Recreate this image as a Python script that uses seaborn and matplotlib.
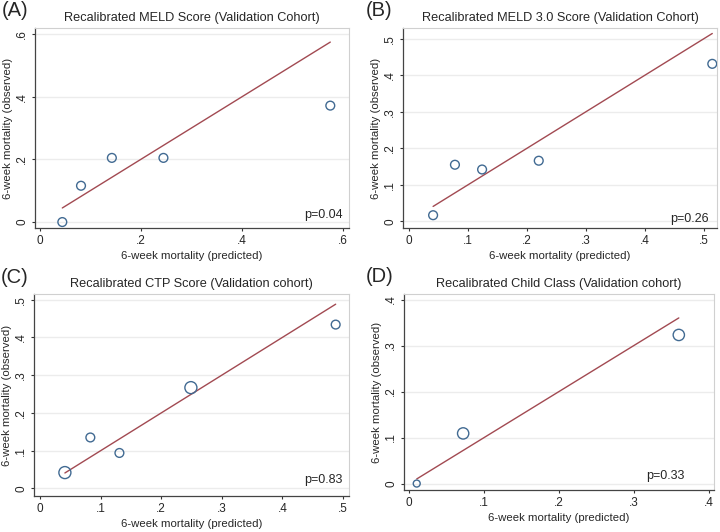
import numpy as np
import pandas as pd
import matplotlib
matplotlib.use("Agg")
import matplotlib.pyplot as plt
import seaborn as sns
from matplotlib.ticker import FuncFormatter

# --- data (predicted vs observed 6-week mortality) ---
meld_pred = [0.045, 0.082, 0.143, 0.245, 0.575]
meld_obs = [0.0, 0.116, 0.205, 0.205, 0.372]
meld_size = [40, 40, 40, 40, 40]

meld3_pred = [0.041, 0.078, 0.124, 0.220, 0.514]
meld3_obs = [0.017, 0.155, 0.142, 0.166, 0.431]
meld3_size = [40, 40, 40, 40, 40]

ctp_pred = [0.041, 0.083, 0.131, 0.249, 0.488]
ctp_obs = [0.042, 0.135, 0.094, 0.267, 0.434]
ctp_size = [75, 40, 40, 75, 40]

child_pred = [0.010, 0.072, 0.360]
child_obs = [0.0, 0.109, 0.323]
child_size = [25, 66, 66]

W, H = 720, 532


def px_rect(left, top, right, bottom):
    # pixel box -> figure fraction rect
    return [left / W, 1 - bottom / H, (right - left) / W, (bottom - top) / H]


panels = [
    dict(tag="(A)", tagpos=(2, 1), title="Recalibrated MELD Score (Validation Cohort)",
         pred=meld_pred, obs=meld_obs, size=meld_size, p="p=0.04",
         xt=[0, .2, .4, .6], yt=[0, .2, .4, .6],
         xlim=(-0.009, 0.612), ylim=(-0.019, 0.62),
         rect=px_rect(35, 28, 349, 228), ptxt=(0.981, 0.05)),
    dict(tag="(B)", tagpos=(366, 1), title="Recalibrated MELD 3.0 Score (Validation Cohort)",
         pred=meld3_pred, obs=meld3_obs, size=meld3_size, p="p=0.26",
         xt=[0, .1, .2, .3, .4, .5], yt=[0, .1, .2, .3, .4, .5],
         xlim=(-0.010, 0.522), ylim=(-0.018, 0.529),
         rect=px_rect(403, 28, 717, 228), ptxt=(0.975, 0.03)),
    dict(tag="(C)", tagpos=(1, 268), title="Recalibrated CTP Score (Validation cohort)",
         pred=ctp_pred, obs=ctp_obs, size=ctp_size, p="p=0.83",
         xt=[0, .1, .2, .3, .4, .5], yt=[0, .1, .2, .3, .4, .5],
         xlim=(-0.010, 0.51), ylim=(-0.020, 0.515),
         rect=px_rect(34, 294, 349, 496), ptxt=(0.978, 0.064)),
    dict(tag="(D)", tagpos=(366, 267), title="Recalibrated Child Class (Validation cohort)",
         pred=child_pred, obs=child_obs, size=child_size, p="p=0.33",
         xt=[0, .1, .2, .3, .4], yt=[0, .1, .2, .3, .4],
         xlim=(-0.007, 0.407), ylim=(-0.014, 0.412),
         rect=px_rect(404, 294, 714, 490), ptxt=(0.906, 0.056)),
]

sns.set_style("white")
plt.rcParams["font.family"] = ["Liberation Sans", "DejaVu Sans"]

MARKER = "#416a92"
LINE = "#a24a52"


def stata_fmt(v, pos):
    if abs(v) < 1e-9:
        return "0"
    return ("%g" % round(v, 2)).replace("0.", ".")


fig = plt.figure(figsize=(W / 100, H / 100), dpi=100)

for pn in panels:
    ax = fig.add_axes(pn["rect"])
    df = pd.DataFrame({"pred": pn["pred"], "obs": pn["obs"]})

    # reference line y = x over the range of predicted values
    lo, hi = df["pred"].min(), df["pred"].max()
    sns.lineplot(x=[lo, hi], y=[lo, hi], color=LINE, lw=1.0, ax=ax)
    sns.scatterplot(data=df, x="pred", y="obs", s=pn["size"],
                    facecolor="none", edgecolor=MARKER, linewidth=1.0,
                    ax=ax, zorder=3)

    ax.set_xlim(pn["xlim"])
    ax.set_ylim(pn["ylim"])
    ax.set_xticks(pn["xt"])
    ax.set_yticks(pn["yt"])
    ax.xaxis.set_major_formatter(FuncFormatter(stata_fmt))
    ax.yaxis.set_major_formatter(FuncFormatter(stata_fmt))
    for lab in ax.get_yticklabels():
        lab.set_rotation(90)
        lab.set_va("center")
    ax.tick_params(axis="both", labelsize=8.5, direction="out", length=2.5,
                   width=0.8, color="#333333", pad=2.5, left=True, bottom=True)
    ax.yaxis.grid(True, color="#ececec", lw=1.0)
    ax.set_axisbelow(True)

    for side in ("left", "bottom"):
        ax.spines[side].set_color("#444444")
        ax.spines[side].set_linewidth(0.9)
    for side in ("top", "right"):
        ax.spines[side].set_color("#d0d0d0")
        ax.spines[side].set_linewidth(0.8)

    ax.set_xlabel("6-week mortality (predicted)", fontsize=8.2, labelpad=3)
    ax.set_ylabel("6-week mortality (observed)", fontsize=8.2, labelpad=2.5)
    ax.set_title(pn["title"], fontsize=9.2, pad=5)
    ax.text(pn["ptxt"][0], pn["ptxt"][1], pn["p"], transform=ax.transAxes,
            ha="right", va="baseline", fontsize=9)

    tx, ty = pn["tagpos"]
    fig.text(tx / W, 1 - ty / H, pn["tag"], fontsize=14.5, ha="left", va="top")

fig.savefig("out.png", dpi=100, facecolor="white")
